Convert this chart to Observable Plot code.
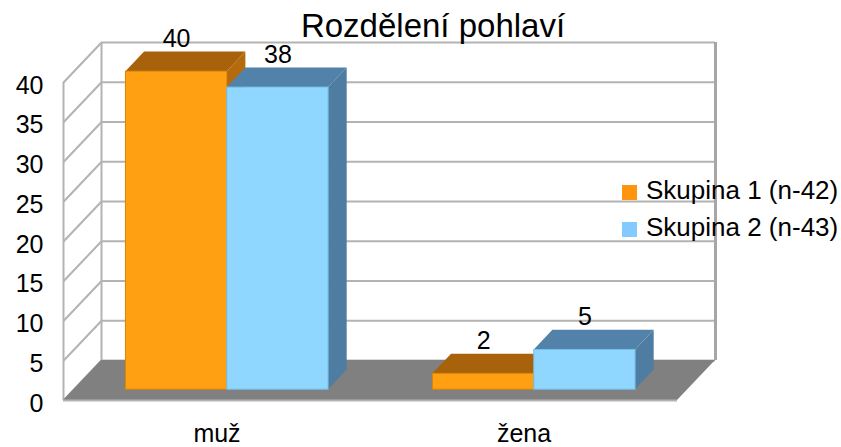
<!DOCTYPE html>
<html>
<head>
<meta charset="utf-8">
<script src="https://cdn.jsdelivr.net/npm/d3@7"></script>
<script src="https://cdn.jsdelivr.net/npm/@observablehq/plot@0.6"></script>
<style>
  html, body { margin: 0; padding: 0; background: #fff; }
  #wrap { position: relative; width: 841px; height: 447px; font-family: "Liberation Sans", Arial, sans-serif; color: #000; }
  #title { position: absolute; top: 9px; left: 433px; transform: translateX(-50%); font-size: 33px; line-height: 33px; white-space: nowrap; }
  .leg { position: absolute; left: 622px; font-size: 26px; line-height: 26px; white-space: nowrap; }
  .leg .sw { display: inline-block; width: 15px; height: 15px; margin-right: 9px; vertical-align: -1px; }
  #chart { position: absolute; left: 0; top: 0; }
</style>
</head>
<body>
<div id="wrap">
  <div id="chart"></div>
  <div id="title">Rozdělení pohlaví</div>
  <div id="legend"></div>
</div>
<script>
// ---- data ----
const categories = ["muž", "žena"];
const seriesNames = ["Skupina 1 (n-42)", "Skupina 2 (n-43)"];
const group1 = [40, 2];
const group2 = [38, 5];
const yTicks = [0, 5, 10, 15, 20, 25, 30, 35, 40];

// ---- styles ----
const faceColors = [
  { front: "#ff9f12", top: "#a8620b", side: "#b56a0b", stroke: "#d98600", swatch: "#ff950e" },
  { front: "#8fd7ff", top: "#5282a9", side: "#4f7da2", stroke: "#76bde6", swatch: "#83caff" }
];
const values = [group1, group2];

// oblique depth projection (in data units of the x and y scales)
const DX = 38 / 307, DY = 40 / 7.95;
const TF = 0.27, TB = 0.76;  // bar front / back depth fractions
const W = 0.33;              // bar width in category units
const YMAX = 40;

const bars = [];
values.forEach((vals, si) => {
  vals.forEach((v, ci) => {
    const x0 = ci + 0.5 - W + si * W;
    bars.push({ si, ci, v, x0, id: `${si}-${ci}` });
  });
});

const marks = [];
// left wall
marks.push(Plot.areaY([{ x: 0, y1: 0, y2: YMAX }, { x: DX, y1: DY, y2: YMAX + DY }],
  { x: "x", y1: "y1", y2: "y2", fill: "white" }));
// back wall
marks.push(Plot.rect([0], { x1: DX, x2: 2 + DX, y1: DY, y2: YMAX + DY, fill: "white" }));
// gridlines on back wall
marks.push(Plot.ruleY(yTicks, { y: d => d + DY, x1: DX, x2: 2 + DX, stroke: "#b3b3b3", strokeWidth: 2 }));
// diagonals on left wall
marks.push(Plot.link(yTicks, { x1: 0, y1: d => d, x2: DX, y2: d => d + DY, stroke: "#b3b3b3", strokeWidth: 2 }));
marks.push(Plot.ruleX([0], { y1: 0, y2: YMAX, stroke: "#b3b3b3", strokeWidth: 2 }));
marks.push(Plot.ruleX([DX], { y1: DY, y2: YMAX + DY, stroke: "#b3b3b3", strokeWidth: 2 }));
marks.push(Plot.ruleX([2 + DX], { y1: DY, y2: YMAX + DY, stroke: "#a6a6a6", strokeWidth: 3 }));
// floor
marks.push(Plot.areaX([{ y: 0, x1: 0, x2: 2 }, { y: DY, x1: DX, x2: 2 + DX }],
  { y: "y", x1: "x1", x2: "x2", fill: "#808080" }));
marks.push(Plot.ruleY([0], { x1: 0, x2: 2, stroke: "#b3b3b3", strokeWidth: 2 }));

// bar sides
bars.forEach(b => {
  const c = faceColors[b.si];
  marks.push(Plot.areaY([
    { x: b.x0 + W + TF * DX, y1: TF * DY, y2: b.v + TF * DY },
    { x: b.x0 + W + TB * DX, y1: TB * DY, y2: b.v + TB * DY }
  ], { x: "x", y1: "y1", y2: "y2", fill: c.side }));
});
// bar tops
bars.forEach(b => {
  const c = faceColors[b.si];
  marks.push(Plot.areaX([
    { y: b.v + TF * DY, x1: b.x0 + TF * DX, x2: b.x0 + W + TF * DX },
    { y: b.v + TB * DY, x1: b.x0 + TB * DX, x2: b.x0 + W + TB * DX }
  ], { y: "y", x1: "x1", x2: "x2", fill: c.top }));
});
// bar fronts
bars.forEach(b => {
  const c = faceColors[b.si];
  marks.push(Plot.rect([b], {
    x1: d => d.x0 + TF * DX, x2: d => d.x0 + W + TF * DX,
    y1: TF * DY, y2: d => d.v + TF * DY,
    fill: c.front, stroke: c.stroke, strokeWidth: 1
  }));
});
// value labels
marks.push(Plot.text(bars, {
  x: d => d.x0 + W / 2 + TF * DX, y: d => d.v + TF * DY,
  text: d => String(d.v), dy: -33, fontSize: 25, fill: "black"
}));
// y tick labels
marks.push(Plot.text(yTicks, {
  x: 0, y: d => d, text: d => String(d), textAnchor: "end", dx: -20, dy: 3, fontSize: 25, fill: "black"
}));
// category labels
marks.push(Plot.text(categories, {
  x: (d, i) => i + 0.5, y: 0, text: d => d, lineAnchor: "top", dy: 24, fontSize: 25, fill: "black"
}));

const chart = Plot.plot({
  width: 841, height: 447,
  marginLeft: 63, marginRight: 164, marginTop: 82, marginBottom: 47,
  x: { domain: [0, 2], axis: null },
  y: { domain: [0, YMAX], axis: null },
  style: { fontFamily: "Liberation Sans, Arial, sans-serif", background: "transparent", overflow: "visible" },
  marks
});
document.getElementById("chart").appendChild(chart);

// legend
const legend = document.getElementById("legend");
seriesNames.forEach((name, i) => {
  const row = document.createElement("div");
  row.className = "leg";
  row.style.top = (177 + i * 37) + "px";
  row.innerHTML = `<span class="sw" style="background:${faceColors[i].swatch}"></span>${name}`;
  legend.appendChild(row);
});
</script>
</body>
</html>
